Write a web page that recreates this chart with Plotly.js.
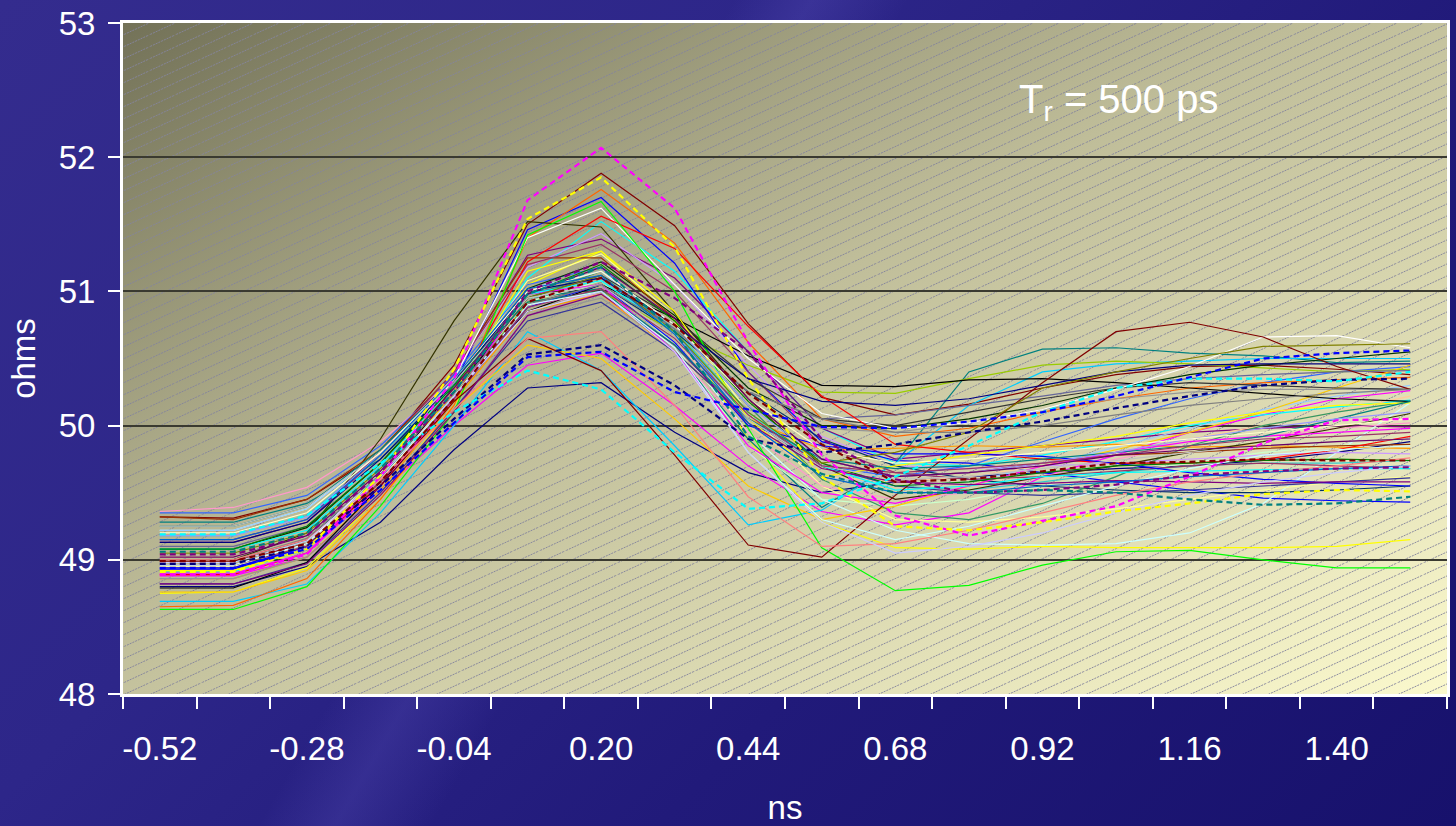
<!DOCTYPE html>
<html>
<head>
<meta charset="utf-8">
<script src="https://cdn.plot.ly/plotly-3.0.1.min.js"></script>
<style>
  html, body { margin: 0; padding: 0; }
  body {
    width: 1456px; height: 826px; overflow: hidden;
    background:
      linear-gradient(120deg, rgba(255,255,255,0) 0%, rgba(255,255,255,0) 38%, rgba(120,110,220,0.18) 42%, rgba(255,255,255,0) 47%, rgba(255,255,255,0) 100%),
      linear-gradient(135deg, #342c8e 0%, #2d2689 35%, #211a7a 65%, #17116c 100%);
  }
  #chart { width: 1456px; height: 826px; }
</style>
</head>
<body>
<div id="chart"></div>
<script>
// categories (ns) and tick labels
const ns = [-0.52,-0.40,-0.28,-0.16,-0.04,0.08,0.20,0.32,0.44,0.56,0.68,0.80,0.92,1.04,1.16,1.28,1.40,1.52];
const tickLabels = ['-0.52','-0.28','-0.04','0.20','0.44','0.68','0.92','1.16','1.40'];
const yTicks = [48,49,50,51,52,53];

// series values (ohms), one array per trace
const navy1      = [48.80,48.80,48.95,49.28,49.82,50.28,50.32,49.95,49.65,49.50,49.58,49.62,49.65,49.68,49.70,49.74,49.80,49.88];
const magenta1   = [48.88,48.88,49.02,49.50,50.00,50.45,50.54,50.15,49.70,49.36,49.26,49.35,49.62,49.78,49.95,50.08,50.20,50.26];
const yellow1    = [48.75,48.76,48.94,49.48,50.15,51.05,51.30,50.78,49.90,49.28,49.09,49.08,49.10,49.09,49.09,49.09,49.10,49.15];
const turq1      = [48.91,48.91,49.08,49.65,50.30,51.10,51.52,51.15,50.55,49.98,49.72,49.70,49.78,49.88,50.00,50.08,50.14,50.19];
const violet1    = [49.13,49.13,49.28,49.78,50.38,51.27,51.39,51.10,50.55,49.98,49.75,49.80,49.85,49.90,49.95,49.98,50.00,49.99];
const darkred1   = [49.32,49.31,49.45,49.80,50.45,51.50,51.88,51.49,50.76,50.21,50.08,50.16,50.28,50.38,50.44,50.45,50.42,50.38];
const teal1      = [49.28,49.28,49.42,49.75,50.30,50.95,51.02,50.55,49.90,49.39,49.72,50.40,50.57,50.58,50.54,50.52,50.47,50.48];
const blue1      = [48.93,48.93,49.10,49.62,50.30,51.46,51.70,51.21,50.40,49.88,49.74,49.72,49.65,49.58,49.52,49.46,49.44,49.43];
const skyblue    = [48.69,48.69,48.82,49.35,50.00,50.70,50.41,49.85,49.26,49.37,49.72,50.15,50.40,50.46,50.48,50.50,50.50,50.50];
const lturq1     = [49.22,49.22,49.38,49.82,50.30,50.95,51.05,50.62,49.95,49.45,49.22,49.12,49.11,49.12,49.20,49.42,49.80,50.17];
const lgreen     = [49.05,49.05,49.20,49.68,50.28,50.92,51.08,50.60,49.85,49.45,49.40,49.45,49.55,49.65,49.72,49.80,49.85,49.90];
const lyellow    = [48.95,48.95,49.12,49.62,50.30,51.08,51.28,50.82,50.10,49.55,49.30,49.28,49.32,49.38,49.45,49.52,49.58,49.62];
const paleblue   = [49.22,49.22,49.38,49.80,50.35,51.02,51.15,50.68,50.02,49.62,49.55,49.58,49.70,49.84,49.98,50.12,50.22,50.30];
const rose       = [49.36,49.39,49.54,49.88,50.35,50.90,50.98,50.55,49.95,49.55,49.45,49.50,49.62,49.75,49.85,49.92,49.98,50.02];
const lavender   = [49.15,49.15,49.30,49.80,50.40,51.18,51.43,51.05,50.45,49.92,49.70,49.68,49.70,49.72,49.75,49.78,49.80,49.79];
const tan        = [49.02,49.02,49.18,49.66,50.25,50.88,51.05,50.65,50.00,49.62,49.58,49.62,49.70,49.80,49.90,50.00,50.10,50.22];
const lblue      = [49.35,49.35,49.48,49.85,50.38,51.05,51.18,50.70,50.05,49.70,49.62,49.70,49.88,50.05,50.20,50.32,50.40,50.44];
const aqua       = [49.18,49.18,49.33,49.78,50.30,50.95,51.12,50.72,50.10,49.70,49.55,49.52,49.58,49.65,49.70,49.72,49.72,49.74];
const lime       = [48.92,48.92,49.08,49.58,50.22,50.92,51.00,50.70,50.45,50.25,50.24,50.35,50.45,50.48,50.46,50.43,50.40,50.42];
const gold       = [48.76,48.76,48.92,49.45,50.12,50.60,50.50,50.05,49.55,49.30,49.40,49.55,49.70,49.82,49.95,50.10,50.28,50.45];
const lorange    = [48.86,48.86,49.02,49.52,50.18,50.85,50.98,50.55,50.05,49.82,49.83,49.85,49.84,49.86,49.84,49.85,49.84,49.83];
const orange     = [48.65,48.66,48.86,49.45,50.15,51.40,51.76,51.36,50.62,50.05,49.92,49.98,50.10,50.20,50.28,50.32,50.34,50.36];
const bluegrey   = [49.10,49.10,49.25,49.72,50.30,50.98,51.10,50.72,50.25,50.05,50.08,50.15,50.22,50.30,50.35,50.38,50.40,50.41];
const grey40     = [48.86,48.86,49.02,49.50,50.12,50.82,50.95,50.58,50.12,49.98,49.95,50.02,50.12,50.20,50.25,50.27,50.27,50.27];
const darkteal   = [49.00,49.00,49.15,49.62,50.22,50.90,51.05,50.70,50.25,49.90,49.70,49.60,49.55,49.52,49.50,49.50,49.52,49.55];
const seagreen   = [48.98,48.98,49.14,49.62,50.25,50.95,51.15,50.75,50.15,49.60,49.35,49.30,49.42,49.62,49.85,50.00,50.10,50.18];
const darkgreen  = [49.08,49.08,49.24,49.72,50.32,51.02,51.22,50.82,50.28,50.00,49.98,50.05,50.15,50.28,50.38,50.45,50.50,50.55];
const olivegreen = [49.00,49.00,49.20,49.90,50.78,51.52,51.48,50.84,50.20,49.70,49.45,49.52,49.62,49.70,49.80,49.88,49.98,50.09];
const brown      = [49.32,49.30,49.45,49.82,50.40,51.25,51.25,50.80,50.20,49.75,49.62,49.65,49.72,49.78,49.80,49.83,49.85,49.86];
const plum1      = [49.15,49.15,49.30,49.80,50.40,51.20,51.35,51.00,50.40,49.85,49.65,49.60,49.62,49.66,49.70,49.72,49.70,49.68];
const indigo     = [48.82,48.82,48.98,49.50,50.12,50.78,50.92,50.55,50.05,49.70,49.55,49.50,49.48,49.50,49.52,49.55,49.58,49.61];
const grey80     = [48.96,48.96,49.12,49.60,50.25,50.95,51.12,50.80,50.35,50.05,50.00,50.10,50.20,50.28,50.32,50.30,50.28,50.27];
const black      = [48.79,48.79,48.98,49.55,50.30,50.85,51.05,50.80,50.52,50.30,50.29,50.34,50.35,50.32,50.28,50.24,50.20,50.18];
const white      = [48.96,48.96,49.12,49.65,50.35,51.40,51.62,51.05,50.50,50.09,49.98,50.02,50.12,50.27,50.44,50.66,50.67,50.58];
const red        = [48.89,48.89,49.05,49.58,50.25,51.22,51.56,51.32,50.74,50.22,49.86,49.80,49.75,49.72,49.72,49.75,49.82,49.92];
const brightgreen= [48.63,48.63,48.80,49.40,50.10,51.42,51.67,51.00,49.98,49.09,48.77,48.81,48.96,49.06,49.07,49.00,48.94,48.94];
const blue2      = [48.94,48.94,49.10,49.58,50.20,50.88,51.05,50.62,50.00,49.85,49.79,49.79,49.77,49.72,49.65,49.60,49.57,49.55];
const yellow2    = [48.92,48.92,49.08,49.58,50.25,51.15,51.30,50.85,50.05,49.62,49.70,49.78,49.85,49.92,50.02,50.10,50.15,50.17];
const magenta2   = [48.90,48.90,49.05,49.55,50.20,50.98,51.05,50.55,49.85,49.50,49.42,49.55,49.70,49.80,49.88,49.92,49.95,49.98];
const turq2      = [49.08,49.08,49.22,49.70,50.30,50.98,51.08,50.70,50.10,49.70,49.52,49.55,49.62,49.65,49.66,49.67,49.68,49.68];
const darkred2   = [48.99,48.99,49.12,49.55,50.18,50.65,50.41,49.78,49.11,49.02,49.48,49.90,50.32,50.70,50.77,50.66,50.44,50.27];
const green      = [49.08,49.08,49.25,49.72,50.30,50.98,51.20,50.78,50.18,49.72,49.55,49.58,49.65,49.70,49.72,49.74,49.75,49.74];
const navy2      = [49.13,49.13,49.28,49.75,50.32,51.00,51.10,50.75,50.35,50.18,50.15,50.20,50.30,50.40,50.45,50.46,50.46,50.46];
const darkyellow = [49.05,49.05,49.20,49.68,50.28,50.95,51.12,50.70,50.10,49.72,49.80,49.95,50.28,50.40,50.50,50.59,50.60,50.61];
const violet2    = [48.82,48.82,48.97,49.48,50.10,50.82,50.98,50.60,50.02,49.68,49.58,49.56,49.57,49.59,49.58,49.57,49.58,49.58];
const teal2      = [49.25,49.25,49.40,49.82,50.35,50.92,51.00,50.60,50.05,49.75,49.68,49.70,49.75,49.80,49.85,49.92,50.05,50.18];
const grey25     = [49.25,49.25,49.40,49.80,50.32,50.95,51.05,50.65,50.05,49.70,49.60,49.62,49.68,49.74,49.80,49.85,49.88,49.90];
const grey50     = [49.00,49.00,49.16,49.64,50.25,50.90,51.05,50.72,50.25,50.05,49.95,49.95,50.00,50.08,50.15,50.20,50.24,50.27];
const periwinkle = [49.18,49.18,49.32,49.78,50.35,51.00,51.15,50.75,50.15,49.75,49.62,49.65,49.72,49.80,49.90,49.98,50.05,50.10];
const plum2      = [48.96,48.96,49.10,49.58,50.20,50.88,51.02,50.65,50.08,49.70,49.65,49.68,49.72,49.78,49.85,49.90,49.92,49.95];
const ivory      = [49.20,49.20,49.35,49.80,50.35,51.00,51.15,50.75,50.20,49.82,49.72,49.75,49.80,49.85,49.90,49.95,50.00,50.05];
const lturq2     = [48.96,48.96,49.12,49.60,50.22,50.90,51.00,50.58,49.80,49.30,49.15,49.25,49.40,49.55,49.68,49.78,49.82,49.85];
const darkpurple = [49.02,49.02,49.18,49.66,50.28,50.98,51.18,50.80,50.20,49.75,49.62,49.65,49.70,49.78,49.82,49.85,49.88,49.90];
const coral      = [49.00,49.00,49.15,49.60,50.12,50.65,50.70,50.15,49.47,49.10,49.12,49.22,49.35,49.48,49.58,49.65,49.70,49.76];
const oceanblue  = [49.15,49.15,49.30,49.78,50.35,51.02,51.12,50.68,50.02,49.62,49.50,49.50,49.55,49.58,49.62,49.65,49.68,49.70];
const iceblue    = [48.98,48.98,49.14,49.62,50.22,50.85,51.00,50.55,49.80,49.28,49.05,49.10,49.20,49.35,49.48,49.58,49.65,49.70];
const navyDash   = [48.97,48.97,49.10,49.55,50.05,50.53,50.60,50.30,49.90,49.80,49.86,49.95,50.03,50.13,50.22,50.30,50.34,50.35];
const magentaDash= [48.89,48.89,49.04,49.62,50.35,51.68,52.07,51.62,50.62,49.78,49.33,49.18,49.29,49.40,49.62,49.87,50.04,50.05];
const yellowDash = [48.91,48.91,49.08,49.63,50.42,51.54,51.85,51.33,50.35,49.62,49.25,49.22,49.28,49.36,49.42,49.49,49.52,49.51];
const turqDash   = [49.19,49.19,49.33,49.72,50.10,50.41,50.27,49.80,49.38,49.42,49.62,49.85,50.10,50.28,50.35,50.35,50.33,50.40];
const violetDash = [49.04,49.04,49.18,49.65,50.25,51.00,51.22,50.95,50.55,49.90,49.60,49.50,49.52,49.56,49.63,49.66,49.68,49.69];
const darkredDash= [48.99,48.99,49.12,49.58,50.20,50.92,51.10,50.75,50.24,49.86,49.58,49.60,49.66,49.72,49.73,49.75,49.74,49.74];
const tealDash   = [49.06,49.06,49.20,49.68,50.25,50.98,51.18,50.70,49.92,49.64,49.50,49.50,49.52,49.50,49.45,49.41,49.42,49.47];
const blueDash   = [48.94,48.94,49.08,49.52,50.02,50.51,50.55,50.25,50.12,49.99,49.98,50.03,50.10,50.22,50.36,50.50,50.54,50.56];

// styling table (series, colour, dashed?)
const styleTable = [
  [navy1,'#000080',0],[magenta1,'#FF00FF',0],[yellow1,'#FFFF00',0],[turq1,'#00FFFF',0],
  [violet1,'#800080',0],[darkred1,'#800000',0],[teal1,'#008080',0],[blue1,'#0000FF',0],
  [skyblue,'#00CCFF',0],[lturq1,'#CCFFFF',0],[lgreen,'#CCFFCC',0],[lyellow,'#FFFF99',0],
  [paleblue,'#99CCFF',0],[rose,'#FF99CC',0],[lavender,'#CC99FF',0],[tan,'#FFCC99',0],
  [lblue,'#3366FF',0],[aqua,'#33CCCC',0],[lime,'#99CC00',0],[gold,'#FFCC00',0],
  [lorange,'#FF9900',0],[orange,'#FF6600',0],[bluegrey,'#666699',0],[grey40,'#969696',0],
  [darkteal,'#003366',0],[seagreen,'#339966',0],[darkgreen,'#003300',0],[olivegreen,'#333300',0],
  [brown,'#993300',0],[plum1,'#993366',0],[indigo,'#333399',0],[grey80,'#333333',0],
  [black,'#000000',0],[white,'#FFFFFF',0],[red,'#FF0000',0],[brightgreen,'#00FF00',0],
  [blue2,'#0000FF',0],[yellow2,'#FFFF00',0],[magenta2,'#FF00FF',0],[turq2,'#00FFFF',0],
  [darkred2,'#800000',0],[green,'#008000',0],[navy2,'#000080',0],[darkyellow,'#808000',0],
  [violet2,'#800080',0],[teal2,'#008080',0],[grey25,'#C0C0C0',0],[grey50,'#808080',0],
  [periwinkle,'#9999FF',0],[plum2,'#993366',0],[ivory,'#FFFFCC',0],[lturq2,'#CCFFFF',0],
  [darkpurple,'#660066',0],[coral,'#FF8080',0],[oceanblue,'#0066CC',0],[iceblue,'#CCCCFF',0],
  [navyDash,'#000080',1],[magentaDash,'#FF00FF',1],[yellowDash,'#FFFF00',1],[turqDash,'#00FFFF',1],
  [violetDash,'#800080',1],[darkredDash,'#800000',1],[tealDash,'#008080',1],[blueDash,'#0000FF',1]
];

const traces = styleTable.map(function(s, i){
  return {
    type: 'scatter', mode: 'lines', x: ns, y: s[0], name: 'S' + (i+1),
    line: { color: s[1], width: s[2] ? 2.2 : 1.2, dash: s[2] ? '6px,4px' : 'solid' },
    hoverinfo: 'skip', showlegend: false
  };
});

// category boundaries for tick marks
const step = 0.12;
const bounds = [ns[0] - step/2].concat(ns.map(function(v){ return v + step/2; }));

// plot-area background: gradient + diagonal hatch
const bgSvg =
  "<svg xmlns='http://www.w3.org/2000/svg' width='1324' height='671' viewBox='0 0 1324 671'>" +
  "<defs>" +
  "<linearGradient id='g' x1='0' y1='0' x2='1' y2='1'>" +
  "<stop offset='0' stop-color='#737258'/>" +
  "<stop offset='0.45' stop-color='#bfbd99'/>" +
  "<stop offset='1' stop-color='#fbf9cd'/>" +
  "</linearGradient>" +
  "<pattern id='h' patternUnits='userSpaceOnUse' width='26' height='12'>" +
  "<line x1='-26' y1='24' x2='52' y2='-12' stroke='#84849c' stroke-opacity='0.95' stroke-width='1' stroke-dasharray='2,1'/>" +
  "</pattern>" +
  "</defs>" +
  "<rect x='0' y='0' width='1324' height='671' fill='url(#g)'/>" +
  "<rect x='0' y='0' width='1324' height='671' fill='url(#h)'/>" +
  "</svg>";
const bgUri = 'data:image/svg+xml;charset=utf-8,' + encodeURIComponent(bgSvg);

const FONT = 'Liberation Sans, Arial, Helvetica, sans-serif';

const layout = {
  width: 1456, height: 826,
  margin: { l: 123, r: 9, t: 23, b: 132, pad: 0 },
  paper_bgcolor: 'rgba(0,0,0,0)',
  plot_bgcolor: 'rgba(0,0,0,0)',
  font: { family: FONT, color: '#ffffff', size: 33 },
  images: [{
    source: bgUri, xref: 'paper', yref: 'paper', x: 0, y: 1, sizex: 1, sizey: 1,
    xanchor: 'left', yanchor: 'top', sizing: 'stretch', layer: 'below'
  }],
  xaxis: {
    type: 'linear', range: [bounds[0], bounds[bounds.length-1]],
    tickmode: 'array', tickvals: tickLabels.map(Number), ticktext: tickLabels,
    ticks: '', ticklabelstandoff: 23,
    tickfont: { family: FONT, size: 33, color: '#ffffff' },
    showgrid: false, zeroline: false,
    showline: true, linecolor: '#ffffff', linewidth: 3, mirror: true,
    minor: { tickmode: 'array', tickvals: bounds, ticks: 'outside', ticklen: 12, tickwidth: 2, tickcolor: '#ffffff', showgrid: false },
    title: { text: 'ns', font: { family: FONT, size: 33, color: '#ffffff' }, standoff: 46 },
    fixedrange: true
  },
  yaxis: {
    range: [48, 53], tickmode: 'array', tickvals: yTicks, ticktext: yTicks.map(String),
    ticks: 'outside', ticklen: 12, tickwidth: 2, tickcolor: '#ffffff',
    ticklabelstandoff: 6,
    tickfont: { family: FONT, size: 33, color: '#ffffff' },
    showgrid: true, gridcolor: '#3a3a30', gridwidth: 2,
    zeroline: false, showline: true, linecolor: '#ffffff', linewidth: 3, mirror: true,
    title: { text: 'ohms', font: { family: FONT, size: 33, color: '#ffffff' }, standoff: 14 },
    fixedrange: true
  },
  annotations: [{
    text: 'T<sub>r</sub> = 500 ps', xref: 'paper', yref: 'paper',
    x: 0.752, y: 0.882, xanchor: 'center', yanchor: 'middle', showarrow: false,
    font: { family: FONT, size: 40, color: '#ffffff' }
  }]
};

Plotly.newPlot('chart', traces, layout, { displayModeBar: false, staticPlot: true });
</script>
</body>
</html>
